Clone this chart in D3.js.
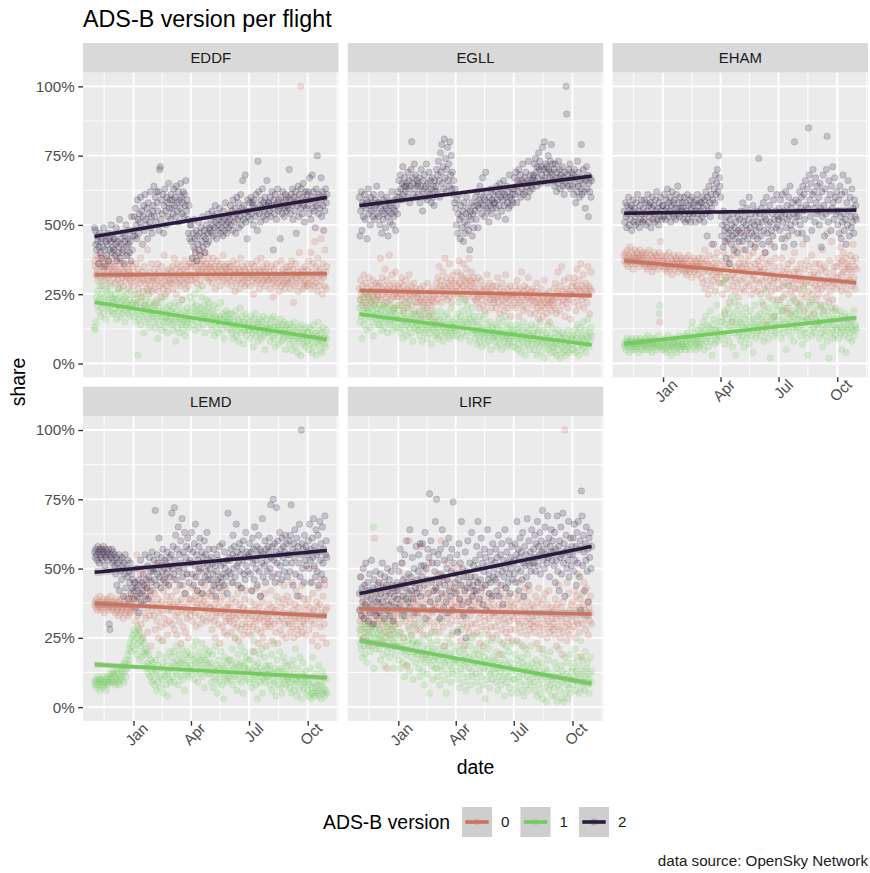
<!DOCTYPE html>
<html><head><meta charset="utf-8">
<script src="https://cdn.jsdelivr.net/npm/d3@7"></script>
<style>body{margin:0;background:#fff}svg{display:block}text{font-family:"Liberation Sans",Arial,Helvetica,sans-serif}</style>
</head><body><svg id="chart" width="870" height="873"></svg>
<script>
// ---------------- data ----------------
const startDay = "2018-11-01";           // first daily value (values are daily, in %)
const airports = ["EDDF", "EGLL", "EHAM", "LEMD", "LIRF"];
const versionLabels = ["0", "1", "2"];
const yTickValues = [0, 0.25, 0.5, 0.75, 1];
const yTickLabels = ["0%", "25%", "50%", "75%", "100%"];
const xTickDates = ["2019-01-01", "2019-04-01", "2019-07-01", "2019-10-01"];
const xTickLabels = ["Jan", "Apr", "Jul", "Oct"];
const xBreakOuter = ["2018-10-01", "2020-01-01"];

const EDDF_v0 = [37,35,32,39,34,30,38,36,33,31,39,35,28,37,34,32,36,30,38,35,33,31,37,34,29,36,32,35,38,33,
31,35,29,34,32,38,30,33,27,36,32,29,34,31,37,28,33,35,30,32,39,31,34,27,33,30,36,32,29,35,31,
28,33,25,31,36,22,30,34,27,32,29,38,24,31,33,26,30,35,21,29,32,27,41,30,25,33,28,31,36,26,30,
31,27,34,29,22,32,30,36,26,33,28,31,24,35,29,32,27,39,30,25,33,28,31,26,34,30,29,32,
33,29,35,27,31,38,30,34,25,32,36,29,31,33,28,35,30,23,32,34,29,37,31,27,33,30,35,28,32,36,30,
35,32,38,30,36,33,41,31,35,29,37,34,32,39,33,30,36,34,28,37,35,32,40,33,36,31,34,38,30,35,
34,31,36,29,33,38,32,35,27,34,31,37,33,30,35,32,28,36,34,31,39,33,30,35,32,34,29,36,33,31,35,
33,30,35,28,32,37,31,34,26,33,29,36,32,30,34,27,33,38,31,29,35,32,30,34,28,33,31,36,29,32,
31,34,28,33,36,30,32,25,35,31,33,29,37,32,30,34,27,33,31,38,29,32,35,30,33,28,34,31,36,30,32,
30,33,27,32,35,29,31,24,34,30,32,28,36,31,29,33,26,32,30,37,28,31,34,29,32,27,33,30,35,29,31,
33,29,35,27,31,37,30,34,22,32,28,36,31,29,33,26,32,40,30,100,34,31,27,33,28,30,35,29,32,28,
34,29,37,31,27,40,33,30,36,28,32,44,29,35,31,26,38,33,28,34,30,45,32,25,36,31,28,41,33,27,35];
const EDDF_v1 = [13,12,15,24,21,26,19,23,28,17,22,25,20,30,18,24,21,27,16,23,26,20,22,19,25,28,21,24,18,23,
22,18,25,20,23,16,21,27,19,24,17,22,20,26,18,23,21,15,24,19,22,25,18,21,20,23,17,26,21,19,22,
20,17,23,15,21,18,25,3,19,16,22,14,20,24,17,19,11,21,18,23,15,20,26,16,19,13,22,18,20,17,21,
18,15,21,13,19,16,23,9,17,20,14,18,22,12,17,19,15,24,16,13,20,17,11,18,15,21,16,19,
17,14,20,12,18,15,22,8,16,19,13,17,21,11,16,18,14,23,15,12,19,16,10,17,14,20,15,18,13,24,16,
19,16,22,14,20,17,25,12,18,21,15,19,27,13,18,20,16,24,17,14,21,18,11,19,16,23,17,20,15,22,
17,14,19,12,16,18,21,10,15,17,13,16,20,11,15,17,14,22,16,12,18,15,9,17,14,19,15,16,13,18,15,
16,12,18,11,14,9,15,17,13,19,10,14,12,16,8,15,20,13,11,17,14,7,15,12,18,13,10,16,14,12,
12,15,9,17,13,11,14,6,16,12,18,10,13,15,8,14,11,16,12,9,15,13,17,10,12,5,14,11,16,13,12,
11,14,8,13,16,10,12,17,9,13,6,15,11,12,14,7,13,10,16,12,8,14,11,9,15,12,5,13,10,14,11,
9,12,7,14,10,5,11,13,8,15,10,6,12,9,4,11,13,8,10,3,14,9,11,7,12,10,6,13,8,11,
8,11,5,13,9,7,12,4,10,14,6,9,11,3,10,8,15,7,12,9,5,11,8,4,13,9,7,10,6,12,9];
const EDDF_v2 = [49,48,43,41,46,44,36,42,47,40,44,38,45,42,49,35,41,46,44,39,43,47,37,45,41,44,50,40,42,45,
41,45,39,43,49,37,44,40,42,52,38,45,43,40,47,41,36,44,46,50,42,39,45,43,48,40,44,37,53,41,46,
48,53,46,56,50,45,59,52,47,54,51,60,49,55,43,53,57,48,61,52,50,56,45,58,54,51,62,49,53,47,55,
57,64,53,60,51,62,58,55,62,48,70,71,52,59,54,61,47,57,63,55,50,60,58,53,65,56,59,52,
61,56,59,54,63,57,60,53,64,58,55,62,51,59,56,65,60,54,58,62,53,61,57,66,55,59,52,47,57,45,50,
50,44,38,47,42,52,45,40,48,37,46,43,51,41,47,39,49,44,53,42,46,48,40,45,50,43,47,54,44,49,
48,52,47,55,50,46,53,49,57,51,45,54,48,52,50,56,47,53,49,51,46,55,52,48,58,50,47,53,51,49,54,
52,57,50,55,48,59,53,51,56,47,54,60,52,58,49,55,53,61,50,56,66,52,57,54,68,51,55,45,59,53,
55,58,52,60,54,58,57,50,59,56,53,61,55,48,73,62,54,57,51,59,56,63,53,58,55,60,52,57,66,54,58,
58,55,60,53,57,62,56,41,59,54,61,57,52,58,63,55,59,56,45,60,57,54,62,58,53,56,61,59,55,57,60,
56,70,59,54,61,57,63,52,58,60,55,62,47,59,57,64,53,61,58,56,63,54,60,65,57,51,59,62,56,61,
57,62,54,67,59,52,60,68,56,62,55,58,49,63,57,75,60,54,61,56,59,67,53,62,57,48,60,55,63,58,61];

const EGLL_v0 = [27,23,30,25,21,28,24,32,26,22,29,25,20,27,24,31,23,26,28,22,25,30,24,27,21,26,29,23,25,28,
24,29,26,38,23,27,31,25,21,28,34,26,24,30,22,27,25,39,28,23,26,32,24,29,20,27,25,33,26,24,28,
24,27,21,29,25,31,23,26,19,28,25,22,30,24,27,20,26,32,23,25,28,21,26,24,29,18,25,27,22,26,24,
22,25,19,27,23,16,24,21,28,22,26,18,23,25,20,29,22,24,17,26,21,23,27,19,24,22,15,25,
26,29,23,31,27,35,25,28,22,30,26,33,24,28,38,25,27,31,23,29,26,36,24,28,30,22,27,32,25,29,26,
30,26,33,28,24,37,29,27,32,25,31,28,36,26,30,23,29,34,27,31,25,38,28,30,26,33,29,24,31,27,
26,23,29,22,25,31,24,20,27,25,30,23,26,21,28,25,19,27,24,32,22,26,25,29,23,27,20,25,28,24,22,
23,26,20,28,24,31,22,25,18,27,24,21,29,23,26,19,25,32,22,24,27,20,25,23,28,17,24,26,21,25,
25,22,28,20,24,30,23,26,17,27,22,25,33,21,24,19,26,28,23,25,20,27,24,31,22,25,18,26,23,24,27,
21,24,18,26,22,29,20,23,16,25,22,19,27,21,24,17,23,30,20,22,25,18,23,21,26,15,22,24,19,23,21,
23,27,20,29,24,18,26,33,22,25,19,28,24,35,21,26,23,30,17,25,22,27,24,20,31,23,26,16,25,28,
25,29,22,31,26,19,28,34,24,27,21,30,26,36,23,28,25,32,20,27,24,29,26,22,35,25,28,18,27,33,26];
const EGLL_v1 = [20,15,23,17,9,19,22,14,18,25,16,21,12,19,24,17,20,13,18,22,15,19,10,21,17,23,16,18,20,14,
18,14,21,16,19,12,20,17,15,22,13,18,16,20,11,17,19,15,21,14,18,16,12,19,17,20,15,18,13,21,16,
16,13,19,11,17,14,21,9,15,18,12,16,20,14,10,17,15,22,13,16,11,18,14,8,16,19,13,15,17,12,14,
15,12,18,10,14,17,8,13,16,20,11,14,12,19,9,15,13,17,11,14,16,7,13,18,12,15,10,14,
14,11,17,9,13,16,12,19,10,14,15,8,13,17,11,14,12,18,10,13,16,9,14,12,20,11,13,15,10,14,12,
13,16,10,18,12,22,15,9,17,25,14,11,19,13,23,16,10,15,21,12,14,18,8,16,13,20,11,15,17,12,
12,9,15,7,11,14,10,17,8,12,13,6,11,16,9,12,10,18,7,11,14,8,12,10,15,5,11,13,9,12,10,
11,8,14,6,10,13,9,16,7,11,12,5,10,15,8,11,9,17,6,10,13,7,11,9,14,8,10,12,6,11,
8,12,6,10,14,9,5,11,7,13,10,4,9,12,8,15,6,10,3,11,9,13,7,8,12,5,10,9,14,7,11,
10,5,9,13,7,3,11,8,12,6,9,15,4,8,10,7,12,2,9,6,11,8,14,5,9,7,10,4,8,13,6,
6,9,4,11,7,3,8,12,5,10,7,2,9,6,11,4,8,10,5,7,3,9,6,12,8,4,7,10,5,9,
7,10,5,12,8,4,9,14,6,11,3,8,13,7,10,5,9,15,6,8,12,4,10,7,16,9,6,11,8,13,10];
const EGLL_v2 = [60,46,55,62,48,58,53,57,61,52,56,59,45,58,63,54,57,50,60,55,58,53,61,56,52,59,57,64,54,58,
53,58,50,56,61,47,55,52,59,54,57,49,56,60,53,46,55,58,51,57,54,62,50,56,53,59,55,48,57,60,54,
62,66,60,68,63,59,65,71,61,64,67,62,64,65,60,69,63,66,58,64,70,80,67,61,65,72,63,68,60,66,64,
65,61,67,58,64,70,62,55,66,63,68,60,64,72,59,65,62,69,61,66,63,58,67,60,64,57,66,62,
64,70,62,68,73,66,60,76,69,79,65,71,63,81,67,74,62,70,78,66,72,64,80,68,75,63,69,61,66,58,63,
56,50,59,47,54,61,52,45,57,53,49,55,44,58,51,47,54,60,50,56,48,53,41,55,52,58,46,54,49,57,
55,60,52,62,57,49,59,56,64,58,61,54,67,57,60,53,59,69,56,62,55,58,51,60,57,63,54,59,56,61,58,
58,62,56,64,59,53,61,57,65,60,63,55,62,59,66,57,61,52,60,64,58,62,56,68,60,57,63,59,61,58,
63,67,61,69,64,58,66,62,70,65,68,60,66,63,72,61,65,67,62,69,64,66,60,73,65,62,68,64,66,63,67,
68,72,66,74,69,64,71,67,76,70,73,65,71,68,78,66,70,80,67,72,69,71,65,75,70,67,73,69,79,68,72,
66,70,64,72,67,62,69,65,73,67,70,63,68,66,71,64,67,61,69,65,100,90,68,64,70,66,72,63,67,69,
64,68,61,70,65,58,67,62,73,64,69,60,66,63,79,61,65,70,62,67,56,66,71,63,68,53,65,62,67,60,66];

const EHAM_v0 = [39,37,40,36,38,41,35,39,37,42,38,36,40,37,34,39,38,41,36,38,40,37,39,35,38,41,37,39,36,40,
38,36,39,35,37,40,34,38,36,41,37,35,39,36,33,38,35,40,35,37,39,36,38,34,37,40,15,44,35,39,37,
37,35,38,34,36,39,33,37,35,40,36,34,38,35,32,37,36,39,34,36,38,35,37,33,36,39,35,37,34,38,36,
36,34,37,33,35,38,32,36,34,39,35,33,37,34,31,36,35,38,33,35,37,34,36,32,35,38,34,36,
35,31,38,29,36,33,41,27,34,37,30,36,25,39,33,35,28,43,32,36,30,34,38,26,35,31,40,33,29,36,32,
33,29,37,25,34,40,30,18,35,31,44,27,33,36,22,38,30,34,15,32,28,39,31,26,35,42,29,33,24,36,
34,30,38,27,35,41,31,26,36,33,47,29,34,37,28,39,32,35,25,33,30,40,32,27,36,43,30,34,26,37,33,
29,35,25,33,38,30,21,34,27,40,31,14,36,28,33,24,37,30,43,26,32,29,35,17,31,38,27,33,23,30,
31,27,35,23,32,38,28,19,33,29,45,25,31,34,20,36,28,32,18,30,26,37,29,24,33,40,27,31,22,34,30,
27,33,21,30,36,25,31,43,28,19,34,29,24,37,16,30,26,35,22,32,29,39,25,31,18,33,28,36,23,30,27,
32,25,36,29,21,34,27,41,30,19,35,28,33,24,47,29,31,22,37,26,30,44,28,23,33,29,35,20,31,27,
35,31,38,28,36,42,32,26,37,33,40,29,34,38,27,36,31,35,25,34,30,39,33,28,37,43,31,35,27,38,34];
const EHAM_v1 = [7,6,8,5,7,9,6,8,4,7,8,6,9,5,7,6,8,7,5,9,6,7,8,4,7,9,6,8,5,7,
8,6,7,9,5,8,6,10,7,5,8,7,6,9,4,7,8,6,9,7,5,8,6,7,10,18,21,6,8,5,7,
6,8,5,9,7,4,8,6,10,7,5,8,6,3,9,7,6,8,5,7,9,6,4,8,7,10,6,5,8,7,6,
7,9,6,10,5,8,7,11,6,9,8,5,10,7,13,15,9,6,8,11,7,5,9,8,12,6,10,7,
9,13,7,11,15,5,12,9,17,8,14,10,6,13,11,19,8,12,3,14,10,16,7,12,9,21,11,8,13,10,15,
12,17,9,15,29,11,19,7,14,31,16,10,20,13,8,18,12,24,15,6,17,11,22,14,3,19,13,16,10,21,
11,15,8,14,18,10,13,6,16,12,20,9,14,11,17,7,13,19,10,15,12,4,16,13,21,9,14,11,17,12,13,
14,18,10,16,22,12,15,8,19,13,26,11,17,14,9,20,15,2,18,12,16,23,13,10,17,15,21,11,14,19,
17,12,21,14,9,19,16,24,11,15,20,13,5,18,14,28,12,16,22,10,15,19,13,17,8,23,14,18,12,16,20,
13,19,16,10,22,14,7,17,12,27,15,11,20,9,16,3,18,14,21,12,17,10,23,15,13,19,11,16,14,21,15,
13,17,9,15,20,11,14,6,18,12,21,10,16,13,8,19,14,2,17,11,15,20,12,9,16,14,19,10,13,18,
12,16,9,14,19,11,13,5,17,12,15,10,18,13,4,16,12,14,9,17,11,15,13,8,16,12,19,10,14,13,12];
const EHAM_v2 = [55,51,58,53,49,57,54,60,50,56,52,57,48,55,59,51,56,53,50,58,54,61,51,55,49,57,52,59,54,51,
56,52,59,54,50,58,55,61,51,57,53,58,49,56,60,52,57,54,51,59,55,62,52,56,50,58,53,60,55,52,57,
57,53,61,55,52,59,56,63,53,58,55,60,51,57,62,54,58,53,59,56,52,61,56,64,54,58,53,60,56,55,58,
56,52,60,54,51,58,55,61,52,57,54,59,51,56,60,53,57,54,58,55,51,59,55,61,54,57,52,58,
55,58,53,60,56,51,59,54,62,57,46,60,55,64,58,53,61,56,66,59,43,63,58,68,61,65,70,62,75,67,64,
60,53,46,50,42,55,48,44,51,38,49,53,45,47,36,52,48,43,50,46,54,41,49,45,51,47,40,53,48,44,
52,47,55,49,44,58,51,46,53,41,50,56,48,45,52,60,49,43,54,47,51,57,46,50,42,53,48,55,45,51,74,
49,54,46,56,51,43,58,48,53,40,52,60,47,55,50,44,57,51,63,48,54,46,59,52,42,55,49,61,50,53,
52,56,48,59,53,45,61,51,55,42,54,62,49,57,52,46,60,53,64,50,56,48,58,54,43,80,51,59,53,55,47,
58,53,62,50,56,60,47,64,55,61,52,66,57,45,63,56,85,68,59,53,65,48,61,70,56,62,51,67,58,54,64,
55,60,50,65,56,42,62,53,68,57,46,63,54,70,82,59,51,66,55,61,48,64,56,71,58,52,67,60,54,62,
55,50,59,47,64,53,45,61,51,68,54,48,62,52,43,58,50,66,55,46,60,53,49,63,51,56,47,59,53,57,52];

const LEMD_v0 = [37,38,36,39,35,37,38,36,40,37,35,38,36,37,39,34,37,38,36,37,39,35,38,36,37,40,36,38,35,37,
36,38,34,37,39,35,36,33,38,36,37,34,39,35,36,32,38,37,34,36,40,35,37,33,36,38,34,37,35,39,36,
40,35,45,31,38,55,33,42,28,39,36,48,30,41,37,25,44,34,50,32,39,43,27,36,46,33,40,22,38,35,42,
37,33,41,28,36,52,31,39,25,37,34,45,29,38,35,24,42,32,47,30,37,40,26,35,44,31,38,36,
35,40,30,37,46,28,36,33,42,26,38,34,50,31,37,23,39,35,44,29,36,41,27,34,48,32,37,25,39,35,33,
39,35,43,31,38,47,34,40,29,37,42,36,50,33,39,30,41,37,45,32,38,44,35,40,31,37,48,34,41,36,
36,32,40,28,35,44,31,37,25,34,39,33,45,30,36,23,38,34,42,29,35,40,27,33,43,31,36,26,37,34,32,
31,36,27,39,33,45,30,34,25,38,32,29,41,35,24,33,37,28,43,34,30,36,26,39,33,42,29,35,32,27,
34,30,38,26,33,42,29,35,20,32,37,31,43,28,34,23,36,32,40,27,33,38,25,31,41,29,34,22,35,32,30,
33,37,29,42,31,24,36,34,48,30,35,27,40,33,23,38,31,45,28,36,32,26,39,34,44,30,37,25,33,40,31,
34,30,38,27,33,45,29,35,25,32,37,31,42,28,34,26,36,32,40,29,33,44,27,31,39,30,35,26,37,32,
33,39,28,36,45,31,34,24,41,35,30,50,33,26,38,36,22,43,32,37,29,46,34,25,40,33,30,44,35,23,36];
const LEMD_v1 = [9,8,10,7,9,11,8,10,6,9,10,8,9,7,11,9,8,10,6,9,11,8,10,9,12,10,11,9,12,13,
9,12,8,11,10,13,9,12,10,8,14,11,13,10,15,12,9,16,13,11,17,14,19,15,21,17,23,20,25,22,26,
28,24,21,27,25,19,29,23,26,17,27,22,24,18,25,20,15,23,19,21,14,20,16,12,19,15,11,17,13,9,16,
10,14,8,13,17,6,12,15,9,19,11,7,14,24,10,16,5,13,11,18,8,12,15,4,13,10,20,9,
14,18,11,16,20,9,15,13,22,12,17,8,15,19,11,16,14,21,10,17,13,6,16,19,12,15,20,11,14,18,13,
15,19,12,17,22,10,16,14,24,13,18,9,16,20,12,17,15,23,11,18,14,7,17,21,13,16,19,12,15,20,
12,16,9,14,19,7,13,11,22,10,15,5,13,17,9,14,12,20,8,15,11,3,14,18,10,13,16,9,12,17,11,
13,17,10,15,21,8,14,12,25,11,16,6,14,19,10,15,13,22,9,16,12,5,15,20,11,14,18,10,13,17,
14,9,17,12,7,20,13,10,24,11,15,8,13,3,16,12,19,9,14,11,21,5,13,10,18,12,9,15,11,14,12,
11,15,8,13,19,6,12,10,23,9,14,4,12,17,8,13,11,20,7,14,10,5,13,18,9,12,16,8,11,15,10,
11,7,13,9,5,15,10,17,6,12,8,21,10,4,14,9,11,6,18,10,3,12,8,16,7,11,9,13,5,10,
6,9,4,8,14,3,7,5,18,5,9,4,7,12,5,8,6,15,4,9,6,3,8,13,5,7,11,4,6,10,5];
const LEMD_v2 = [56,54,57,55,53,58,56,52,57,55,54,57,53,56,58,55,51,57,54,56,55,53,57,30,28,55,54,57,52,56,
53,55,51,48,54,44,52,50,55,42,53,49,46,54,51,40,52,48,55,43,50,47,53,39,49,45,52,41,48,43,46,
42,39,45,36,43,50,40,44,34,46,41,53,38,45,42,48,37,44,55,40,46,43,51,39,47,54,42,49,45,56,50,
49,53,46,71,50,44,55,48,52,61,47,51,43,54,49,57,46,50,53,45,52,48,56,50,44,54,47,51,
55,70,50,58,48,72,53,62,46,57,51,65,49,55,44,60,52,68,47,56,50,63,41,54,58,48,61,52,45,57,53,
52,63,48,56,44,59,51,66,47,55,42,53,58,49,61,50,45,56,41,54,52,60,47,55,49,63,51,46,57,53,
50,46,54,42,52,48,57,44,51,40,49,55,46,53,43,58,47,51,45,59,48,52,44,56,50,47,53,41,70,49,54,
53,48,57,45,55,62,50,58,47,54,66,51,56,44,52,59,49,55,43,57,53,60,48,54,46,63,51,56,49,55,
54,59,48,56,42,61,52,57,46,65,53,50,58,44,55,62,49,57,40,56,52,68,47,55,51,60,45,57,53,49,58,
56,61,50,73,54,47,58,75,53,59,45,56,72,52,60,48,55,63,51,57,46,61,54,58,49,56,62,52,59,47,55,
55,60,49,62,73,52,57,44,59,54,64,48,56,61,40,58,52,66,47,55,100,59,50,57,45,62,53,58,51,56,
55,60,50,66,53,57,45,61,54,68,51,58,47,64,55,49,62,44,56,67,53,59,48,65,52,57,46,69,55,60,54];

const LIRF_v0 = [35,31,47,28,36,33,39,25,34,30,37,32,42,27,35,22,33,38,30,36,29,34,40,31,61,35,33,38,30,34,
32,37,28,41,33,24,36,30,45,31,35,27,38,14,33,29,40,34,26,37,31,43,28,35,32,22,36,30,39,33,34,
36,30,44,27,38,52,33,40,25,35,47,31,37,15,42,34,29,60,36,32,39,26,45,33,38,30,41,35,28,37,34,
38,32,45,28,36,58,34,41,26,37,49,30,39,19,43,35,33,52,31,38,40,27,46,34,36,29,42,37,
36,42,31,48,38,27,44,35,60,33,40,29,46,37,22,41,34,52,32,39,35,45,30,43,37,26,50,36,33,41,38,
36,31,42,28,37,50,33,39,24,35,44,30,38,22,41,34,32,47,29,36,39,27,43,33,37,30,40,35,26,38,
35,30,41,27,36,45,32,38,23,34,42,29,37,22,40,33,31,44,28,35,38,26,41,32,36,29,39,34,25,37,33,
34,29,40,26,35,45,31,37,19,33,41,28,36,23,39,32,30,43,27,34,37,25,40,31,35,28,38,33,24,36,
32,37,28,41,34,24,39,31,45,30,35,27,38,33,22,40,29,36,43,31,34,26,38,32,42,28,35,30,37,33,29,
31,36,27,40,33,23,38,30,43,29,34,26,37,32,21,39,28,35,41,30,33,25,37,31,42,27,34,29,36,32,28,
30,35,26,39,32,22,37,29,44,28,33,25,36,31,19,38,27,34,100,29,32,24,45,30,41,26,35,28,37,31,
33,38,29,42,35,25,40,31,48,30,36,27,39,34,18,41,30,37,45,32,35,28,43,33,38,26,36,31,40,34,30];
const LIRF_v1 = [28,23,26,21,30,18,25,22,29,19,27,24,16,28,23,30,26,20,25,29,22,27,65,14,28,25,21,30,23,26,
25,21,28,17,26,23,31,19,24,27,15,25,22,29,20,26,23,30,18,25,28,21,24,14,27,23,29,19,25,22,26,
22,17,27,14,23,20,32,16,21,25,11,22,19,35,15,24,20,28,13,21,26,18,23,10,24,20,30,16,22,19,23,
19,14,24,11,20,17,30,13,18,22,8,19,16,26,12,21,17,25,5,18,23,15,20,10,21,17,27,14,
18,14,24,11,17,21,8,19,15,31,13,18,22,10,16,20,5,17,25,12,19,15,23,9,18,14,27,12,17,20,16,
17,13,22,10,16,20,7,18,14,28,12,17,21,9,15,19,6,16,24,11,18,14,22,8,17,13,25,11,16,19,
16,12,21,9,15,19,6,17,13,26,11,16,20,8,14,18,3,15,23,10,17,13,21,7,16,12,24,10,15,18,14,
12,17,9,20,14,6,16,11,24,13,8,15,19,10,14,4,17,12,22,9,15,11,20,7,14,16,5,13,23,10,
14,10,19,7,13,17,5,15,11,23,9,14,18,6,12,16,4,13,21,8,15,11,19,6,14,10,22,8,13,16,12,
9,14,6,12,17,4,11,15,8,21,13,5,10,16,3,12,19,7,11,14,2,13,9,17,6,11,20,8,12,4,10,
11,7,16,4,10,14,2,12,8,21,6,11,15,3,9,13,2,10,18,5,12,8,16,3,11,7,19,5,10,13,
14,8,16,11,21,6,13,9,18,12,5,15,10,24,7,12,17,9,13,6,20,11,14,8,16,10,5,12,18,9,13];
const LIRF_v2 = [41,35,47,33,43,38,50,32,44,37,52,36,40,45,31,42,48,34,39,53,37,43,30,46,35,41,49,33,38,44,
39,45,34,48,41,36,52,38,43,32,47,40,44,35,50,42,37,46,33,41,49,38,44,31,43,40,51,36,42,45,39,
42,49,37,57,44,35,52,40,46,33,55,43,39,60,45,38,48,41,64,36,47,42,54,39,45,50,34,43,58,41,46,
49,55,43,59,40,51,47,59,36,51,44,63,32,50,46,57,41,54,77,38,60,45,52,35,56,42,49,67,
43,75,52,39,55,45,32,57,48,41,64,47,36,53,44,59,38,50,46,34,61,42,54,40,49,57,35,74,52,43,45,
48,41,55,27,46,59,39,52,44,67,37,50,33,47,42,56,25,49,43,60,38,45,52,35,47,63,40,44,51,42,
47,53,42,58,45,67,50,39,55,46,61,43,52,37,49,57,44,54,35,51,64,46,48,41,56,45,53,40,59,47,50,
52,46,57,42,54,48,62,40,51,55,44,59,49,37,53,47,64,50,43,56,52,45,60,48,41,54,50,58,46,52,
53,48,59,45,55,67,50,57,42,54,61,49,56,46,63,52,40,58,51,55,47,68,53,44,60,51,56,49,64,52,54,
57,52,62,49,59,54,67,51,58,55,63,48,60,56,71,53,57,50,65,55,59,52,69,54,61,47,58,56,64,53,60,
56,51,63,45,57,53,69,49,58,42,60,54,65,48,55,70,52,59,40,56,62,50,57,53,67,47,55,61,51,58,
55,61,49,66,53,58,44,63,52,67,57,47,60,35,78,69,51,62,56,42,59,53,65,49,57,38,61,54,63,50,58];

const seriesByAirport = {
  EDDF: [EDDF_v0, EDDF_v1, EDDF_v2],
  EGLL: [EGLL_v0, EGLL_v1, EGLL_v2],
  EHAM: [EHAM_v0, EHAM_v1, EHAM_v2],
  LEMD: [LEMD_v0, LEMD_v1, LEMD_v2],
  LIRF: [LIRF_v0, LIRF_v1, LIRF_v2]
};

// ---------------- styles / layout ----------------
const colors = ["#cc735f", "#72cc5e", "#2a1a3e"];
const FONT_BASE = 19.4, FONT_SMALL = 15.2, FONT_STRIP = 14.93, FONT_TITLE = 23.3;
const FAMILY = '"Liberation Sans",Arial,Helvetica,sans-serif';
const L = 83, R = 868, T = 43, B = 721, GAP = 9.3, STRIP_H = 29.5;
const PW = (R - L - 2 * GAP) / 3;
const PH = (B - T - GAP) / 2 - STRIP_H;

const svg = d3.select("#chart");
svg.append("rect").attr("width", 870).attr("height", 873).attr("fill", "#ffffff");

const parse = d3.timeParse("%Y-%m-%d");
const t0 = parse(startDay);
const nDays = d3.max(Object.values(seriesByAirport).flat(), a => a.length);
const tEnd = d3.timeDay.offset(t0, nDays - 1);
const span = tEnd - t0;
const x = d3.scaleTime()
  .domain([new Date(+t0 - 0.05 * span), new Date(+tEnd + 0.05 * span)])
  .range([0, PW]);
const y = d3.scaleLinear().domain([-0.05, 1.05]).range([PH, 0]);
const dayToDate = d => new Date(+t0 + d * 86400000);

const majorX = xTickDates.map(parse);
const allBreaks = [parse(xBreakOuter[0]), ...majorX, parse(xBreakOuter[1])];
const minorX = d3.pairs(allBreaks, (a, b) => new Date((+a + +b) / 2))
  .filter(d => d >= x.domain()[0] && d <= x.domain()[1]);
const minorY = d3.pairs(yTickValues, (a, b) => (a + b) / 2);

function lmFit(ys) {
  const n = ys.length, xs = d3.range(n);
  const mx = d3.mean(xs), my = d3.mean(ys);
  let sxx = 0, sxy = 0;
  xs.forEach((xv, i) => { sxx += (xv - mx) ** 2; sxy += (xv - mx) * (ys[i] - my); });
  const b = sxy / sxx, a = my - b * mx;
  let sse = 0; xs.forEach((xv, i) => { sse += (ys[i] - (a + b * xv)) ** 2; });
  const s = Math.sqrt(sse / (n - 2)), tq = 1.9666;
  return d3.range(80).map(k => {
    const xv = (n - 1) * k / 79;
    const fit = a + b * xv;
    const se = s * Math.sqrt(1 / n + (xv - mx) ** 2 / sxx);
    return { d: dayToDate(xv), fit, lo: fit - tq * se, hi: fit + tq * se };
  });
}

const defs = svg.append("defs");

airports.forEach((ap, i) => {
  const col = i % 3, row = Math.floor(i / 3);
  const px = L + col * (PW + GAP);
  const sy = T + row * (STRIP_H + PH + GAP);
  const py = sy + STRIP_H;
  const g = svg.append("g").attr("transform", `translate(${px},${py})`);

  defs.append("clipPath").attr("id", "clip" + i)
    .append("rect").attr("width", PW).attr("height", PH);

  g.append("rect").attr("width", PW).attr("height", PH).attr("fill", "#ebebeb");
  const grid = g.append("g");
  grid.selectAll(".mny").data(minorY).join("line")
    .attr("x1", 0).attr("x2", PW).attr("y1", d => y(d)).attr("y2", d => y(d))
    .attr("stroke", "#ffffff").attr("stroke-width", 0.9);
  grid.selectAll(".mnx").data(minorX).join("line")
    .attr("y1", 0).attr("y2", PH).attr("x1", d => x(d)).attr("x2", d => x(d))
    .attr("stroke", "#ffffff").attr("stroke-width", 0.9);
  grid.selectAll(".mjy").data(yTickValues).join("line")
    .attr("x1", 0).attr("x2", PW).attr("y1", d => y(d)).attr("y2", d => y(d))
    .attr("stroke", "#ffffff").attr("stroke-width", 1.8);
  grid.selectAll(".mjx").data(majorX).join("line")
    .attr("y1", 0).attr("y2", PH).attr("x1", d => x(d)).attr("x2", d => x(d))
    .attr("stroke", "#ffffff").attr("stroke-width", 1.8);

  const plot = g.append("g").attr("clip-path", `url(#clip${i})`);
  const series = seriesByAirport[ap];
  series.forEach((vals, v) => {
    plot.append("g").selectAll("circle").data(vals).join("circle")
      .attr("cx", (d, k) => x(d3.timeDay.offset(t0, k)))
      .attr("cy", d => y(d / 100))
      .attr("r", 3.2)
      .attr("fill", colors[v]).attr("fill-opacity", 0.2)
      .attr("stroke", colors[v]).attr("stroke-opacity", 0.2).attr("stroke-width", 0.8);
  });
  series.forEach((vals, v) => {
    const fit = lmFit(vals.map(d => d / 100));
    plot.append("path").datum(fit)
      .attr("d", d3.area().x(d => x(d.d)).y0(d => y(d.lo)).y1(d => y(d.hi)))
      .attr("fill", "#999999").attr("fill-opacity", 0.4);
    plot.append("path").datum(fit)
      .attr("d", d3.line().x(d => x(d.d)).y(d => y(d.fit)))
      .attr("fill", "none").attr("stroke", colors[v]).attr("stroke-width", 3.6);
  });

  svg.append("rect").attr("x", px).attr("y", sy).attr("width", PW).attr("height", STRIP_H).attr("fill", "#d9d9d9");
  svg.append("text").attr("x", px + PW / 2).attr("y", sy + STRIP_H / 2 + 5.3)
    .attr("text-anchor", "middle").style("font-size", FONT_STRIP + "px").attr("fill", "#1a1a1a").text(ap);

  if (col === 0) {
    const ax = g.append("g").call(d3.axisLeft(y).tickValues(yTickValues)
      .tickFormat((d, k) => yTickLabels[k]).tickSize(4.7).tickPadding(3.6));
    ax.select(".domain").remove();
    ax.selectAll(".tick line").attr("stroke", "#333333").attr("stroke-width", 1.4);
    ax.selectAll(".tick text").attr("fill", "#4d4d4d")
      .style("font-size", FONT_SMALL + "px").style("font-family", FAMILY);
  }
  if (i + 3 >= airports.length) {
    const ax = g.append("g").attr("transform", `translate(0,${PH})`)
      .call(d3.axisBottom(x).tickValues(majorX).tickFormat((d, k) => xTickLabels[k]).tickSize(4.7));
    ax.select(".domain").remove();
    ax.selectAll(".tick line").attr("stroke", "#333333").attr("stroke-width", 1.4);
    ax.selectAll(".tick text").attr("y", null).attr("dy", null).attr("x", null)
      .attr("text-anchor", "end").attr("transform", "translate(15,8.5) rotate(-45)")
      .attr("fill", "#4d4d4d")
      .style("font-size", FONT_SMALL + "px").style("font-family", FAMILY);
  }
});

svg.append("text").attr("x", L).attr("y", 27).style("font-size", FONT_TITLE + "px").attr("fill", "#000").text("ADS-B version per flight");
svg.append("text").attr("transform", `translate(25,${(T + B) / 2}) rotate(-90)`).attr("text-anchor", "middle")
  .style("font-size", FONT_BASE + "px").attr("fill", "#000").text("share");
svg.append("text").attr("x", (L + R) / 2).attr("y", 774).attr("text-anchor", "middle")
  .style("font-size", FONT_BASE + "px").attr("fill", "#000").text("date");

const leg = svg.append("g");
leg.append("text").attr("x", 323).attr("y", 828.8).style("font-size", FONT_BASE + "px").attr("fill", "#000").text("ADS-B version");
const keyX = [462, 520.5, 579], keyY = 807, KS = 30;
versionLabels.forEach((lab, v) => {
  const kg = leg.append("g").attr("transform", `translate(${keyX[v]},${keyY})`);
  kg.append("rect").attr("width", KS).attr("height", KS).attr("fill", "#f2f2f2");
  kg.append("circle").attr("cx", KS / 2).attr("cy", KS / 2).attr("r", 3.2)
    .attr("fill", colors[v]).attr("fill-opacity", 0.2).attr("stroke", colors[v]).attr("stroke-opacity", 0.2);
  kg.append("rect").attr("width", KS).attr("height", KS).attr("fill", "#999999").attr("fill-opacity", 0.4);
  kg.append("line").attr("x1", 3.3).attr("x2", KS - 3.3).attr("y1", KS / 2).attr("y2", KS / 2)
    .attr("stroke", colors[v]).attr("stroke-width", 3.6);
  leg.append("text").attr("x", keyX[v] + KS + 9).attr("y", keyY + KS / 2 + 5.3)
    .style("font-size", FONT_SMALL + "px").attr("fill", "#1a1a1a").text(lab);
});

svg.append("text").attr("x", R).attr("y", 866).attr("text-anchor", "end")
  .style("font-size", FONT_SMALL + "px").attr("fill", "#1a1a1a").text("data source: OpenSky Network");
</script>
</body></html>
